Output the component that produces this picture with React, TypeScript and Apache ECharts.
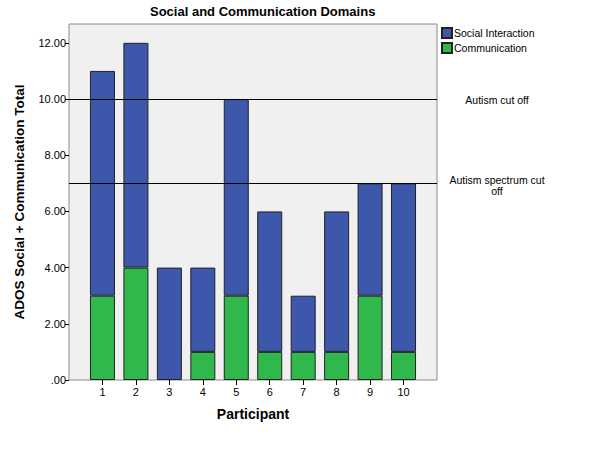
import React, { useEffect, useRef } from "react";
import * as echarts from "echarts";

const participants = ["1", "2", "3", "4", "5", "6", "7", "8", "9", "10"];
const communication = [3, 4, 0, 1, 3, 1, 1, 1, 3, 1];
const social = [8, 8, 4, 3, 7, 5, 2, 5, 4, 6];
const yTicks = [0, 2, 4, 6, 8, 10, 12];
const cutoffs = [
  { value: 10, label: "Autism cut off" },
  { value: 7, label: "Autism spectrum cut\noff" },
];

const FONT = "Liberation Sans, Arial, sans-serif";

export default function App() {
  const ref = useRef<HTMLDivElement>(null);
  useEffect(() => {
    if (!ref.current) return;
    document.body.style.margin = "0";
    const chart = echarts.init(ref.current, undefined, { renderer: "svg" });
    const xData = ["", ...participants, ""];
    const pad = (arr: number[]) => ["-", ...arr.map((v) => (v === 0 ? "-" : v)), "-"];
    chart.setOption({
      animation: false,
      backgroundColor: "#ffffff",
      textStyle: { fontFamily: FONT },
      title: {
        text: "Social and Communication Domains",
        left: 145,
        top: 0,
        textStyle: { fontSize: 13, fontWeight: "bold", color: "#000", fontFamily: FONT },
      },
      legend: {
        data: ["Social Interaction", "Communication"],
        orient: "vertical",
        left: 436,
        top: 22,
        itemWidth: 10,
        itemHeight: 10,
        itemGap: 3,
        icon: "rect",
        textStyle: { fontSize: 10.5, color: "#000", fontFamily: FONT, padding: [0, 0, 0, -3] },
      },
      grid: {
        left: 69,
        right: 163,
        top: 24,
        bottom: 69,
        show: true,
        backgroundColor: "#f0f0f0",
        borderColor: "#8c8c8c",
        borderWidth: 1,
      },
      xAxis: {
        type: "category",
        data: xData,
        boundaryGap: false,
        name: "Participant",
        nameLocation: "middle",
        nameGap: 27,
        nameTextStyle: { fontSize: 14, fontWeight: "bold", color: "#000", fontFamily: FONT },
        axisLine: { show: false },
        axisTick: {
          show: true,
          length: 5,
          lineStyle: { color: "#000" },
          interval: (i: number, v: string) => v !== "",
        },
        axisLabel: { fontSize: 11, color: "#000", margin: 6, interval: 0 },
        splitLine: { show: false },
      },
      yAxis: {
        type: "value",
        min: 0,
        max: 12.67,
        interval: 2,
        name: "ADOS Social + Communication Total",
        nameLocation: "middle",
        nameGap: 43,
        nameTextStyle: { fontSize: 13.5, fontWeight: "bold", color: "#000", fontFamily: FONT },
        axisLine: { show: false },
        axisTick: { show: true, length: 4, lineStyle: { color: "#000" }, customValues: yTicks },
        axisLabel: {
          fontSize: 11,
          color: "#000",
          margin: 3,
          customValues: yTicks,
          formatter: (v: number) => (v === 0 ? ".00" : v.toFixed(2)),
        },
        splitLine: { show: false },
      },
      series: [
        {
          name: "Communication",
          type: "bar",
          stack: "total",
          barWidth: 25,
          data: pad(communication),
          itemStyle: { color: "#31b84c", borderColor: "#222", borderWidth: 1 },
          markLine: {
            silent: true,
            symbol: "none",
            label: { show: false },
            lineStyle: { color: "#000", width: 1, type: "solid" },
            data: cutoffs.map((c) => ({ yAxis: c.value })),
          },
        },
        {
          name: "Social Interaction",
          type: "bar",
          stack: "total",
          barWidth: 25,
          data: pad(social),
          itemStyle: { color: "#3d57aa", borderColor: "#222", borderWidth: 1 },
        },
      ],
    });
    const graphics = cutoffs.map((c) => {
      const y = chart.convertToPixel({ yAxisIndex: 0 }, c.value) as number;
      const lines = c.label.split("\n").length;
      return {
        type: "text",
        x: 497,
        y: lines > 1 ? y + 2.5 : y + 1,
        style: {
          text: c.label,
          fill: "#000",
          font: `10.5px ${FONT}`,
          align: "center",
          verticalAlign: "middle",
          lineHeight: 11,
        },
      };
    });
    chart.setOption({ graphic: graphics });
    return () => chart.dispose();
  }, []);
  return <div ref={ref} style={{ width: 600, height: 449 }} />;
}
